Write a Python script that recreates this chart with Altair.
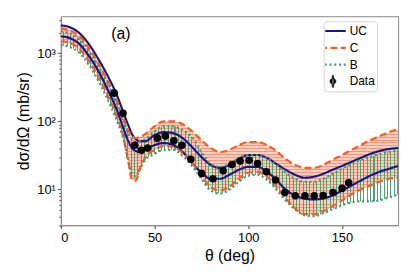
import altair as alt
import pandas as pd

# ---------------- data ----------------
theta = [0, 5, 10, 15, 20, 25, 30, 33, 36, 38, 40, 42, 45, 50, 55, 60, 65, 70, 75, 80,
         85, 90, 95, 100, 105, 110, 115, 120, 125, 130, 135, 140, 145, 150, 155, 160,
         165, 170, 175, 180]

uc_hi = [2545, 2381, 1950, 1350, 818, 464, 238, 144, 87.5, 64.8, 54.8, 51.3, 51.3, 62.7,
         69.3, 67.0, 56.7, 42.0, 30.1, 23.0, 20.8, 23.0, 28.1, 32.1, 32.1, 29.1, 23.8,
         19.5, 16.5, 14.9, 15.4, 17.0, 19.5, 22.2, 25.4, 29.1, 33.2, 36.7, 39.3, 40.6]
uc_lo = [1764, 1650, 1350, 905, 548, 291, 144, 84.6, 51.3, 40.6, 36.7, 35.5, 38.0, 44.9,
         48.0, 44.9, 35.5, 24.6, 17.6, 14.4, 14.4, 16.5, 19.5, 21.5, 21.5, 18.2, 13.9,
         10.0, 8.18, 7.40, 7.16, 7.40, 8.18, 9.66, 11.4, 13.5, 15.9, 18.2, 20.1, 22.2]
c_hi = [2303, 2154, 1764, 1182, 716, 393, 195, 118, 74.1, 60.6, 56.7, 58.6, 64.8, 84.6,
        100, 100, 90.5, 71.6, 53.0, 40.6, 35.5, 38.0, 44.9, 49.6, 49.6, 44.9, 36.7, 28.1,
        23.0, 20.8, 20.8, 23.0, 27.2, 32.1, 38.0, 44.9, 53.0, 60.6, 69.3, 76.6]
c_lo = [1493, 1396, 1143, 766, 449, 238, 114, 64.8, 25.4, 13.9, 13.5, 19.5, 29.1, 38.0,
        43.4, 42.0, 34.4, 24.6, 15.9, 10.7, 9.66, 11.0, 14.4, 17.6, 18.2, 15.4, 11.0,
        7.40, 5.30, 4.34, 4.34, 4.80, 5.67, 6.92, 8.46, 10.0, 11.4, 13.0, 14.4, 14.9]
b_hi = [2084, 1950, 1596, 1069, 648, 367, 182, 110, 67.0, 54.8, 49.6, 51.3, 54.8, 71.6,
        84.6, 84.6, 74.1, 58.6, 35.5, 23.8, 21.5, 23.8, 29.1, 32.1, 32.1, 29.1, 23.0,
        17.6, 14.4, 13.0, 13.0, 14.4, 17.0, 20.1, 23.8, 27.2, 30.1, 33.2, 35.5, 38.0]
b_lo = [1306, 1222, 1000, 670, 393, 208, 100, 60.6, 27.2, 17.0, 15.4, 19.5, 27.2, 33.2,
        38.0, 38.0, 31.1, 22.2, 14.4, 9.66, 8.74, 10.0, 13.0, 15.9, 16.5, 13.9, 10.0,
        6.92, 5.13, 4.20, 4.06, 4.49, 5.13, 5.86, 6.48, 6.70, 6.70, 6.92, 7.65, 8.46]

data_theta = [28.5, 33.2, 39.5, 43.0, 46.3, 51.5, 55.8, 60.3, 64.6, 69.4, 75.2, 81.2,
              86.6, 91.3, 95.7, 100.5, 105.0, 109.7, 114.6, 119.6, 125.1, 130.3, 135.2,
              140.0, 145.3, 150.1, 153.6]
data_sigma = [259, 131, 44.5, 37.6, 40.6, 56.7, 60.7, 51.8, 44.5, 27.9, 17.2, 14.4, 18.8,
              23.3, 26.1, 26.8, 24.0, 18.2, 13.8, 9.06, 8.13, 8.11, 8.11, 8.19, 9.06,
              10.4, 12.6]
data_err = [15, 8, 2.7, 2.3, 2.4, 3.4, 3.6, 3.1, 2.7, 1.7, 1.0, 0.9, 1.1, 1.4, 1.6, 1.6,
            1.4, 1.1, 0.8, 0.5, 0.5, 0.5, 0.5, 0.5, 0.5, 0.6, 0.8]

legend_names = ["UC", "C", "B", "Data"]
legend_colors = ["#16168f", "#fb5a22", "#3a9d68", "black"]
legend_dash = [[1, 0], [7, 3.5], [2, 2.8], [1, 0]]

# ---------------- tables ----------------
bands = pd.DataFrame({"theta": theta, "c_hi": c_hi, "c_lo": c_lo, "b_hi": b_hi, "b_lo": b_lo})

rows = []
for name, hi, lo in [("UC", uc_hi, uc_lo), ("C", c_hi, c_lo), ("B", b_hi, b_lo)]:
    for t, h, l in zip(theta, hi, lo):
        rows.append({"theta": t, "sigma": h, "series": name, "curve": name + "_hi"})
        rows.append({"theta": t, "sigma": l, "series": name, "curve": name + "_lo"})
curves = pd.DataFrame(rows)

pts = pd.DataFrame({
    "theta": data_theta,
    "sigma": data_sigma,
    "lo": [s - e for s, e in zip(data_sigma, data_err)],
    "hi": [s + e for s, e in zip(data_sigma, data_err)],
})
annot = pd.DataFrame({"theta": [32], "sigma": [1900], "text": ["(a)"]})

# ---------------- styles ----------------
FONT = "Liberation Sans"


def stripes(n, bg, line, frac, horizontal_lines):
    stops = []
    for i in range(n):
        a = i / n
        b = (i + 1 - frac) / n
        c = (i + 1) / n
        stops += [alt.GradientStop(offset=a, color=bg), alt.GradientStop(offset=b, color=bg),
                  alt.GradientStop(offset=b, color=line), alt.GradientStop(offset=c, color=line)]
    if horizontal_lines:
        return alt.LinearGradient(gradient="linear", stops=stops, x1=0, x2=0, y1=0, y2=1)
    return alt.LinearGradient(gradient="linear", stops=stops, x1=0, x2=1, y1=0, y2=0)


c_fill = stripes(63, "#fcc9b6", "#f58a6d", 0.33, True)
b_fill = stripes(100, "rgba(255,255,255,0)", "#4ea372", 0.3, False)

xs = alt.Scale(domain=[0, 180], nice=False)
ys = alt.Scale(type="log", domain=[3, 3470], nice=False)

yticks = [3, 4, 5, 6, 7, 8, 9, 10, 20, 30, 40, 50, 60, 70, 80, 90, 100, 200, 300, 400,
          500, 600, 700, 800, 900, 1000, 2000, 3000]
major = "datum.value == 10 || datum.value == 100 || datum.value == 1000"

x_axis = alt.Axis(values=[0, 50, 100, 150], title="θ (deg)", tickSize=3.5,
                  labelFontSize=13, titleFontSize=16, labelPadding=3, titlePadding=3)
y_axis = alt.Axis(values=yticks, title="dσ/dΩ (mb/sr)",
                  labelExpr="datum.value == 10 ? '10¹' : datum.value == 100 ? '10²' : datum.value == 1000 ? '10³' : ''",
                  tickSize={"condition": {"test": major, "value": 3.5}, "value": 2},
                  labelOverlap=False, labelFontSize=13, titleFontSize=16,
                  labelPadding=2, titlePadding=2, minExtent=28, maxExtent=28)

X = alt.X("theta:Q", scale=xs, axis=x_axis)
XN = alt.X("theta:Q", scale=xs)

LEG_PATH = ("M-0.05,-0.46L0.05,-0.46L0.05,0.46L-0.05,0.46Z "
            "M-0.23,0A0.23,0.23 0 1,0 0.23,0A0.23,0.23 0 1,0 -0.23,0Z")

legend = alt.Legend(
    title=None, orient="none", legendX=266.2, legendY=5.0,
    symbolType=alt.ExprRef(expr="datum.value == 'Data' ? '" + LEG_PATH + "' : 'stroke'"),
    symbolFillColor=alt.ExprRef(expr="datum.value == 'Data' ? 'black' : 'transparent'"),
    symbolStrokeWidth=alt.ExprRef(expr="datum.value == 'Data' ? 0.6 : 2.2"),
    symbolSize=676, clipHeight=16.9, rowPadding=0, labelOffset=11, symbolOffset=1.8,
    padding=1.5, strokeColor="#d5d5d5", fillColor="white", cornerRadius=3,
    labelFontSize=12, labelFont=FONT, labelColor="black")

# ---------------- layers ----------------
c_area = alt.Chart(bands).mark_area(fill=c_fill, interpolate="monotone", opacity=0.9).encode(
    x=X, y=alt.Y("c_hi:Q", scale=ys, axis=y_axis), y2="c_lo:Q")
b_area = alt.Chart(bands).mark_area(fill=b_fill, interpolate="monotone").encode(
    x=XN, y=alt.Y("b_hi:Q", scale=ys), y2="b_lo:Q")

lines = alt.Chart(curves).mark_line(interpolate="monotone", strokeWidth=2.2).encode(
    x=XN,
    y=alt.Y("sigma:Q", scale=ys),
    detail="curve:N",
    color=alt.Color("series:N", scale=alt.Scale(domain=legend_names, range=legend_colors),
                    legend=legend),
    strokeDash=alt.StrokeDash("series:N", scale=alt.Scale(domain=legend_names, range=legend_dash),
                              legend=legend),
    order=alt.Order("theta:Q"),
)

err = alt.Chart(pts).mark_rule(color="black", strokeWidth=1.2).encode(
    x=XN, y=alt.Y("lo:Q", scale=ys), y2="hi:Q")
points = alt.Chart(pts).mark_circle(size=58, color="black", opacity=1).encode(
    x=XN, y=alt.Y("sigma:Q", scale=ys))

text = alt.Chart(annot).mark_text(fontSize=16, font=FONT, color="black").encode(
    x=XN, y=alt.Y("sigma:Q", scale=ys), text="text:N")

chart = alt.layer(c_area, b_area, lines, err, points, text).properties(
    width=341.5, height=211.6,
    padding={"left": 7.5, "top": 4.7, "right": 4, "bottom": 5},
).configure_view(stroke="#888888", strokeWidth=1).configure_axis(
    grid=False, domainColor="#888888", tickColor="#444444", labelColor="black",
    titleColor="black", labelFont=FONT, titleFont=FONT, titleFontWeight="normal")

chart.save("out.html", embed_options={"renderer": "svg", "actions": False})
